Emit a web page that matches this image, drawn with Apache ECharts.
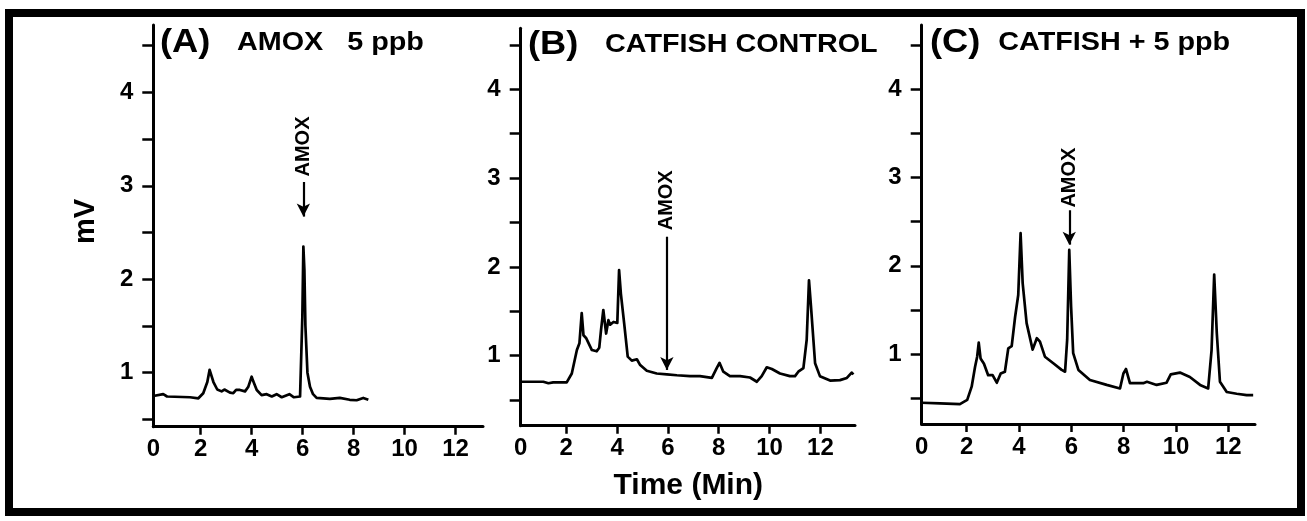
<!DOCTYPE html>
<html>
<head>
<meta charset="utf-8">
<script src="https://cdn.jsdelivr.net/npm/echarts@6/dist/echarts.min.js"></script>
<style>
html,body{margin:0;padding:0;background:#fff;}
#c{width:1307px;height:521px;}
</style>
</head>
<body>
<div id="c"></div>
<script>
// ---- data ----
const panelTitles = ['(A)', '(B)', '(C)'];
const panelSubtitles = ['AMOX   5 ppb', 'CATFISH CONTROL', 'CATFISH + 5 ppb'];
const xTickLabels = [0, 2, 4, 6, 8, 10, 12];
const yTickLabels = [1, 2, 3, 4];
const yMinorTicks = [0.5, 1, 1.5, 2, 2.5, 3, 3.5, 4, 4.5];

const aTime = [0.14,0.53,0.68,1.58,1.91,2.10,2.26,2.35,2.50,2.65,2.82,2.93,3.15,3.28,3.39,3.54,3.74,3.87,4.00,4.06,4.20,4.39,4.59,4.79,4.98,5.18,5.48,5.66,5.90,5.96,5.99,6.03,6.07,6.11,6.19,6.29,6.41,6.55,7.07,7.46,7.85,8.12,8.38,8.58];
const aMv   = [0.75,0.77,0.745,0.737,0.726,0.78,0.90,1.03,0.90,0.82,0.80,0.82,0.786,0.78,0.815,0.815,0.80,0.85,0.957,0.91,0.815,0.76,0.77,0.745,0.77,0.737,0.77,0.737,0.745,0.76,1.6,2.35,2.1,1.5,1.0,0.85,0.77,0.73,0.72,0.73,0.71,0.705,0.73,0.71];

const bTime = [0.21,1.10,1.30,1.49,2.02,2.22,2.42,2.52,2.61,2.68,2.78,3.01,3.20,3.30,3.37,3.46,3.57,3.66,3.73,3.86,4.01,4.08,4.15,4.28,4.42,4.58,4.78,4.91,5.17,5.56,5.96,6.35,6.87,7.26,7.73,7.92,8.03,8.18,8.44,8.84,9.23,9.50,9.69,9.89,10.09,10.41,10.80,11.00,11.13,11.33,11.46,11.55,11.63,11.79,11.98,12.38,12.77,13.04,13.23,13.30];
const bMv   = [0.707,0.707,0.69,0.70,0.70,0.80,1.064,1.14,1.48,1.23,1.20,1.064,1.05,1.09,1.29,1.515,1.25,1.40,1.35,1.38,1.37,1.965,1.70,1.365,0.99,0.945,0.96,0.895,0.83,0.80,0.79,0.78,0.77,0.77,0.75,0.86,0.92,0.82,0.77,0.77,0.755,0.707,0.77,0.87,0.85,0.80,0.77,0.77,0.82,0.86,1.18,1.85,1.55,0.915,0.77,0.72,0.725,0.75,0.81,0.79];

const cTime = [0.28,0.98,1.74,2.02,2.19,2.32,2.40,2.46,2.53,2.66,2.82,2.99,3.15,3.30,3.46,3.59,3.72,3.85,3.97,4.06,4.14,4.29,4.52,4.68,4.80,4.99,5.31,5.63,5.76,5.84,5.92,5.99,6.07,6.27,6.71,7.35,7.86,7.99,8.09,8.24,8.75,8.89,9.26,9.64,9.80,10.15,10.53,10.92,11.23,11.36,11.46,11.56,11.68,11.94,12.32,12.70,12.95];
const cMv   = [0.448,0.44,0.433,0.48,0.63,0.856,0.97,1.13,0.95,0.89,0.76,0.76,0.675,0.78,0.80,1.065,1.09,1.42,1.67,2.37,1.80,1.35,1.05,1.18,1.14,0.97,0.895,0.82,0.80,1.16,2.18,1.54,1.01,0.82,0.705,0.65,0.61,0.78,0.83,0.67,0.67,0.685,0.65,0.675,0.77,0.79,0.74,0.65,0.61,1.045,1.9,1.235,0.686,0.57,0.55,0.535,0.535];

// AMOX arrow annotations per panel (time, arrow start mV, arrow tip mV, label centre mV)
const amoxTime   = [6.03, 5.96, 5.92];
const amoxTop    = [3.04, 2.34, 2.63];
const amoxTip    = [2.67, 0.84, 2.24];
const amoxLabelY = [3.42, 2.75, 3.00];

// axis extents of each panel
const xMin = [0.14, 0.21, 0.28];
const xMax = [13.08, 13.36, 13.02];
const yMin = [0.422, 0.212, 0.207];
const yMax = [4.72, 4.687, 4.73];

// ---- layout ----
const grids = [
  {left: 153.3, top: 25,   width: 329.7, height: 401.7},
  {left: 520.7, top: 28.3, width: 334.3, height: 397.4},
  {left: 921.7, top: 25,   width: 333.3, height: 399}
];
const titlePos = [
  {px: 160, sx: 237,   y: 43},
  {px: 528, sx: 605,   y: 45},
  {px: 930, sx: 998.3, y: 43}
];

const FONT = '"Liberation Sans", Arial, Helvetica, sans-serif';
const series = [[aTime, aMv], [bTime, bMv], [cTime, cMv]];

const option = {
  animation: false,
  backgroundColor: '#ffffff',
  grid: grids.map(g => Object.assign({containLabel: false, outerBoundsMode: 'none', show: false}, g)),
  xAxis: grids.map((g, i) => ({
    type: 'value', gridIndex: i, min: xMin[i], max: xMax[i],
    axisLine: {show: true, onZero: false, lineStyle: {color: '#000', width: 3}},
    axisTick: {show: true, inside: false, length: 8, lineStyle: {color: '#000', width: 2.5},
               customValues: xTickLabels.filter(v => v > 0)},
    axisLabel: {show: true, margin: 11, color: '#000', fontFamily: FONT, fontWeight: 'bold', fontSize: 24,
                customValues: xTickLabels.map(v => v === 0 ? xMin[i] : v),
                formatter: v => (Math.abs(v - xMin[i]) < 1e-6 ? '0' : String(v))},
    splitLine: {show: false}
  })),
  yAxis: grids.map((g, i) => ({
    type: 'value', gridIndex: i, min: yMin[i], max: yMax[i],
    axisLine: {show: true, onZero: false, lineStyle: {color: '#000', width: 3}},
    axisTick: {show: true, inside: false, length: 11, lineStyle: {color: '#000', width: 2.5},
               customValues: yMinorTicks},
    axisLabel: {show: true, margin: 20, color: '#000', fontFamily: FONT, fontWeight: 'bold', fontSize: 24,
                customValues: yTickLabels, formatter: v => String(v)},
    splitLine: {show: false}
  })),
  series: series.map((s, i) => ({
    type: 'line', xAxisIndex: i, yAxisIndex: i,
    data: s[0].map((t, k) => [t, s[1][k]]),
    showSymbol: false, symbol: 'none', smooth: false,
    lineStyle: {color: '#000', width: 2.7, join: 'round'},
    silent: true,
    markLine: {
      silent: true, symbol: ['none', 'arrow'], symbolSize: [10, 13], precision: 3,
      lineStyle: {color: '#000', width: 2.2, type: 'solid'},
      label: {show: false},
      data: [[{coord: [amoxTime[i], amoxTop[i]]}, {coord: [amoxTime[i], amoxTip[i]]}]]
    },
    markPoint: {
      silent: true, symbol: 'circle', symbolSize: 0,
      itemStyle: {color: 'rgba(0,0,0,0)'},
      label: {show: true, position: 'inside', formatter: 'AMOX', rotate: 90,
              color: '#000', fontFamily: FONT, fontWeight: 'bold', fontSize: 20},
      data: [{coord: [amoxTime[i], amoxLabelY[i]]}]
    }
  })),
  graphic: [
    {type: 'rect', silent: true, shape: {x: 9, y: 13, width: 1292, height: 499},
     style: {fill: 'none', stroke: '#000', lineWidth: 8}},
    {type: 'text', silent: true, x: 86, y: 221.5, rotation: Math.PI / 2,
     style: {text: 'mV', font: 'bold 29px ' + FONT, fill: '#000',
             align: 'center', verticalAlign: 'middle', textAlign: 'center', textVerticalAlign: 'middle'}},
    {type: 'text', silent: true, x: 688.3, y: 486,
     style: {text: 'Time (Min)', font: 'bold 30px ' + FONT, fill: '#000',
             align: 'center', verticalAlign: 'middle', textAlign: 'center', textVerticalAlign: 'middle'}}
  ].concat(titlePos.flatMap((p, i) => [
    {type: 'text', silent: true, x: p.px, y: p.y, scaleX: 1.1,
     style: {text: panelTitles[i], font: 'bold 33px ' + FONT, fill: '#000',
             align: 'left', verticalAlign: 'middle', textAlign: 'left', textVerticalAlign: 'middle'}},
    {type: 'text', silent: true, x: p.sx, y: p.y, scaleX: 1.15,
     style: {text: panelSubtitles[i], font: 'bold 25px ' + FONT, fill: '#000',
             align: 'left', verticalAlign: 'middle', textAlign: 'left', textVerticalAlign: 'middle'}}
  ]))
};

const chart = echarts.init(document.getElementById('c'), null, {renderer: 'canvas'});
chart.setOption(option);
</script>
</body>
</html>
